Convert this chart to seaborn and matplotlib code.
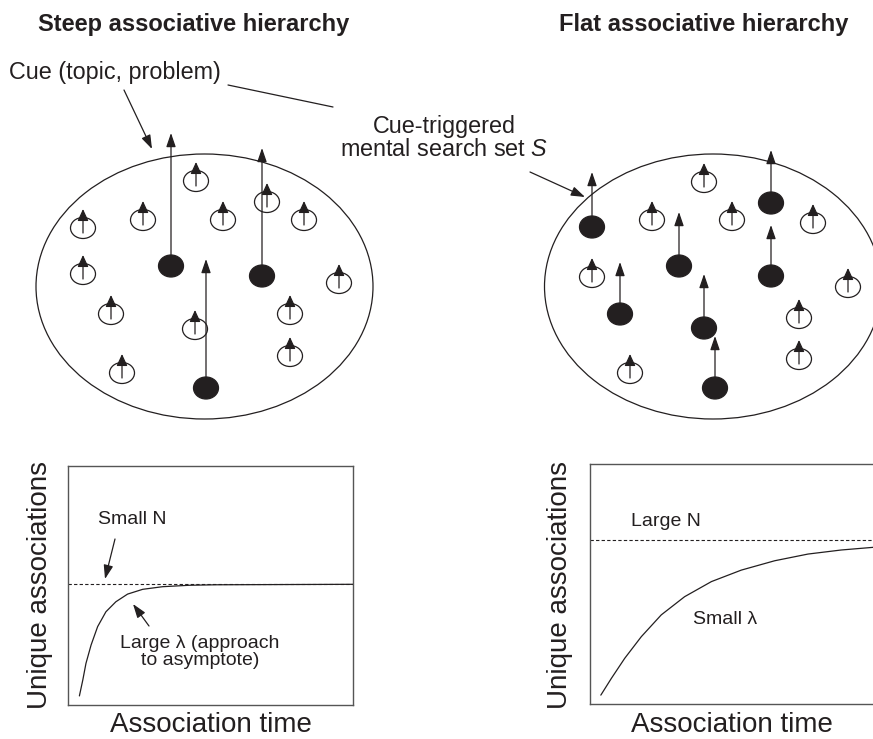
import numpy as np
import pandas as pd
import matplotlib
matplotlib.use("Agg")
import matplotlib.pyplot as plt
from matplotlib.patches import Ellipse
import seaborn as sns

# --- dados (coordenadas em pixels da imagem) ---
# hierarquia ingreme: circulos vazios (x, y) e cheios (x, y, ponta da seta)
steep_open_x = [196, 83, 143, 223, 267, 304, 83, 339, 111, 195, 290, 290, 122]
steep_open_y = [181, 228, 220, 220, 202, 220, 274, 283, 314, 329, 314, 356, 373]
steep_full_x = [171, 262, 206]
steep_full_y = [266, 276, 388]
steep_full_tip = [133, 148, 259]

# hierarquia plana
flat_open_x = [704, 652, 732, 813, 592, 848, 799, 799, 630]
flat_open_y = [182, 220, 220, 223, 277, 287, 318, 359, 373]
flat_full_x = [592, 679, 771, 771, 620, 704, 715]
flat_full_y = [227, 266, 203, 276, 314, 328, 388]
flat_full_tip = [172, 212, 150, 225, 262, 274, 336]

# curvas (tempo de associacao x associacoes unicas, escala 0-100)
steep_t = [4.0, 5.2, 6.3, 8.1, 10.4, 13.3, 16.8, 20.9, 26.2, 33.2, 42.6, 51.9, 100]
steep_n = [3.8, 10.5, 17.4, 25.1, 32.8, 39.0, 43.2, 46.4, 48.4, 49.5, 50.1, 50.3, 50.5]
steep_asym = 50.5
flat_t = [3.8, 7.5, 12.2, 18.0, 25.0, 33.2, 42.6, 53.1, 64.8, 76.5, 88.2, 99.3]
flat_n = [3.5, 10.5, 18.9, 27.9, 37.0, 44.6, 50.9, 55.7, 59.6, 62.4, 64.1, 65.2]
flat_asym = 68.3

sns.set_style("white")
plt.rcParams["font.family"] = ["Liberation Sans", "DejaVu Sans"]
plt.rcParams["mathtext.fontset"] = "custom"
plt.rcParams["mathtext.it"] = "Liberation Sans:italic"
plt.rcParams["mathtext.rm"] = "Liberation Sans"

W, H = 873, 739
fig = plt.figure(figsize=(W / 100, H / 100), dpi=100)
ax = fig.add_axes([0, 0, 1, 1])
ax.set_xlim(0, W)
ax.set_ylim(H, 0)
ax.axis("off")

INK = "#231f20"
LW = 0.9


def seta(x0, y0, x1, y1, ms=12, hl=0.7, hw=0.24):
    ax.annotate("", xy=(x1, y1), xytext=(x0, y0),
                arrowprops=dict(arrowstyle=f"-|>,head_length={hl},head_width={hw}",
                                mutation_scale=ms, lw=LW, color=INK,
                                shrinkA=0, shrinkB=0))


def painel(cx, open_x, open_y, full_x, full_y, full_tip):
    ax.add_patch(Ellipse((cx, 286.5), 337, 265, fill=False, lw=LW, ec=INK))
    for x, y in zip(open_x, open_y):
        ax.add_patch(Ellipse((x, y), 25, 21, fill=False, lw=LW, ec=INK))
        seta(x, y + 5, x, y - 19, ms=11, hl=0.65, hw=0.3)
    for x, y, t in zip(full_x, full_y, full_tip):
        seta(x, y, x, t)
        ax.add_patch(Ellipse((x, y), 25, 22, fc=INK, ec=INK, lw=LW, zorder=3))


painel(204.5, steep_open_x, steep_open_y, steep_full_x, steep_full_y, steep_full_tip)
painel(713, flat_open_x, flat_open_y, flat_full_x, flat_full_y, flat_full_tip)

# titulos e rotulos de cima
ax.text(194, 25, "Steep associative hierarchy", ha="center", va="center",
        fontsize=17, fontweight="bold", color=INK)
ax.text(704, 25, "Flat associative hierarchy", ha="center", va="center",
        fontsize=17, fontweight="bold", color=INK)
ax.text(9, 72, "Cue (topic, problem)", ha="left", va="center", fontsize=16.8, color=INK)
seta(124, 90, 152, 149)
ax.plot([228, 333], [85, 107], color=INK, lw=LW)
ax.text(444, 138, "Cue-triggered\nmental search set $S$", ha="center", va="center",
        fontsize=16.8, linespacing=1.05, color=INK)
seta(530, 172, 585, 197)


# graficos de baixo
def curva(rect, t, n, asym):
    a = fig.add_axes(rect)
    a.patch.set_alpha(0)
    sns.lineplot(x=t, y=n, ax=a, color=INK, lw=LW)
    a.axhline(asym, color=INK, lw=0.8, ls=(0, (3, 2)))
    a.set_xlim(0, 100)
    a.set_ylim(0, 100)
    a.set_xticks([])
    a.set_yticks([])
    for s in a.spines.values():
        s.set_color("#555555")
        s.set_linewidth(1.0)
    return a


curva([68 / W, (H - 705) / H, 285 / W, 239 / H], steep_t, steep_n, steep_asym)
curva([590 / W, (H - 703.5) / H, 285 / W, 239.5 / H], flat_t, flat_n, flat_asym)

for x in [40, 560]:
    ax.text(x, 585, "Unique associations", rotation=90, ha="center", va="center",
            fontsize=20, color=INK)
ax.text(211, 725, "Association time", ha="center", va="center", fontsize=20, color=INK)
ax.text(732, 725, "Association time", ha="center", va="center", fontsize=20, color=INK)

ax.text(132, 520, "Small N", ha="center", va="center", fontsize=14, color=INK)
seta(115, 539, 105, 579)
ax.text(200, 652, "Large λ (approach\nto asymptote)", ha="center", va="center",
        fontsize=14, linespacing=1.05, color=INK)
seta(149, 626, 133, 604)
ax.text(631, 522, "Large N", ha="left", va="center", fontsize=14, color=INK)
ax.text(725, 620, "Small λ", ha="center", va="center", fontsize=14, color=INK)

fig.savefig("out.png", dpi=100)
